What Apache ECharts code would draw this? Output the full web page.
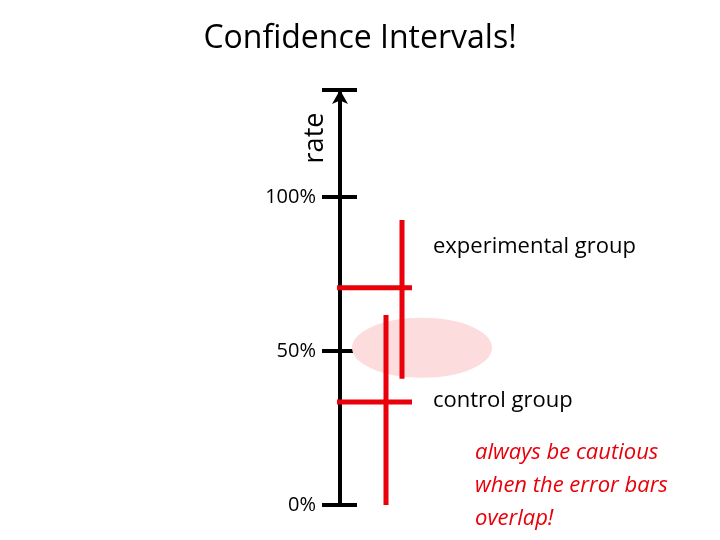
<!DOCTYPE html>
<html>
<head>
<meta charset="UTF-8">
<title>Confidence Intervals</title>
<style>html,body{margin:0;padding:0;background:#fff}#main{width:720px;height:540px}</style>
</head>
<body>
<div id="main"></div>
<script src="https://cdn.jsdelivr.net/npm/echarts@6/dist/echarts.min.js"></script>
<script>
// values in % of rate; x in axis units (pixels to the right of the rate axis)
var yTicks = [0, 50, 100];
var expInterval = [[62, 92.5], [62, 41]];
var expMean = [[-5, 70.5], [72, 70.5]];
var ctlInterval = [[46, 61.7], [46, 0]];
var ctlMean = [[-5, 33.4], [72, 33.4]];
var overlap = [[82, 51]];

var red = '#e8000b';
var font = '"Open Sans", "DejaVu Sans", sans-serif';
function seg(d) {
  return { type: 'line', data: d, symbol: 'none', silent: true,
    lineStyle: { color: red, width: 5 }, z: 3 };
}

var myChart = echarts.init(document.getElementById('main'));
var option = {
  animation: false,
  title: { text: 'Confidence Intervals!', left: 'center', top: 18,
    textStyle: { fontFamily: font, fontSize: 32, fontWeight: 'normal', color: '#000' } },
  grid: { left: 340, width: 360, top: 90, bottom: 35 },
  xAxis: { type: 'value', min: 0, max: 360, show: false },
  yAxis: [
    { type: 'value', position: 'left', min: 0, max: 134.7, interval: 50, showMaxLabel: false,
      splitLine: { show: false },
      axisLine: { show: true, symbol: ['none', 'arrow'], symbolSize: [12, 14],
        lineStyle: { color: '#000', width: 4 } },
      axisTick: { show: true, length: 18, lineStyle: { color: '#000', width: 4 } },
      axisLabel: { margin: 24, fontFamily: font, fontSize: 20, color: '#000',
        formatter: function (v) { return yTicks.indexOf(v) >= 0 ? v + '%' : ''; } } },
    { type: 'value', position: 'left', offset: 0, min: 0, max: 134.7, interval: 50,
      showMaxLabel: false,
      splitLine: { show: false }, axisLine: { show: false }, axisLabel: { show: false },
      axisTick: { show: true, inside: true, length: 17, lineStyle: { color: '#000', width: 4 } } }
  ],
  series: [
    { type: 'custom', data: overlap, z: 1, silent: true,
      renderItem: function (params, api) {
        var c = api.coord([api.value(0), api.value(1)]);
        return { type: 'ellipse', shape: { cx: c[0], cy: c[1], rx: 70, ry: 30 },
          style: { fill: '#fcdcdc' } };
      } },
    seg(expInterval), seg(expMean), seg(ctlInterval), seg(ctlMean)
  ],
  graphic: [
    { type: 'text', x: 315, y: 138, rotation: Math.PI / 2,
      style: { text: 'rate', fontFamily: font, fontSize: 27, fill: '#000',
        align: 'center', verticalAlign: 'middle' } },
    { type: 'text', x: 433, y: 247, style: { text: 'experimental group', fontFamily: font,
      fontSize: 22, fill: '#000', verticalAlign: 'middle' } },
    { type: 'text', x: 433, y: 401, style: { text: 'control group', fontFamily: font,
      fontSize: 22, fill: '#000', verticalAlign: 'middle' } },
    { type: 'text', x: 587, y: 486, style: { text: 'always be cautious\nwhen the error bars\noverlap!',
      fontFamily: font, fontSize: 22, fontStyle: 'italic', fill: red, lineHeight: 33,
      align: 'left', verticalAlign: 'middle', x: -112 } }
  ]
};
myChart.setOption(option);
</script>
</body>
</html>
